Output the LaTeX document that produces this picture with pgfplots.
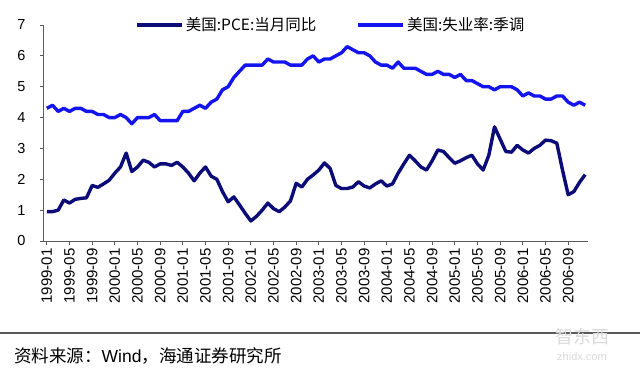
\documentclass[border=0pt]{standalone}
\usepackage{fontspec}
\setmainfont{Liberation Sans}
\newfontfamily\cjk{Noto Sans CJK SC}
\usepackage{pgfplots}
\usepackage{pgfplotstable}
\pgfplotsset{compat=1.18}
\definecolor{pce}{RGB}{12,12,120}
\definecolor{unemp}{RGB}{20,20,240}
\definecolor{axgray}{RGB}{90,90,90}

\pgfplotstableread{
i v
0 0.95
1 0.95
2 1.00
3 1.33
4 1.23
5 1.35
6 1.38
7 1.40
8 1.80
9 1.74
10 1.85
11 1.97
12 2.20
13 2.40
14 2.85
15 2.25
16 2.40
17 2.62
18 2.55
19 2.40
20 2.50
21 2.50
22 2.45
23 2.55
24 2.40
25 2.20
26 1.95
27 2.20
28 2.40
29 2.10
30 2.00
31 1.60
32 1.27
33 1.43
34 1.17
35 0.90
36 0.65
37 0.80
38 1.00
39 1.23
40 1.05
41 0.95
42 1.10
43 1.30
44 1.87
45 1.75
46 2.00
47 2.14
48 2.30
49 2.53
50 2.35
51 1.80
52 1.70
53 1.70
54 1.75
55 1.92
56 1.78
57 1.72
58 1.85
59 1.95
60 1.78
61 1.85
62 2.20
63 2.50
64 2.78
65 2.60
66 2.40
67 2.30
68 2.60
69 2.95
70 2.90
71 2.70
72 2.52
73 2.60
74 2.70
75 2.78
76 2.50
77 2.30
78 2.78
79 3.70
80 3.30
81 2.90
82 2.88
83 3.10
84 2.95
85 2.85
86 3.00
87 3.10
88 3.27
89 3.25
90 3.17
91 2.30
92 1.50
93 1.60
94 1.90
95 2.15
}\pcedata

\pgfplotstableread{
i v
0 4.3
1 4.4
2 4.2
3 4.3
4 4.2
5 4.3
6 4.3
7 4.2
8 4.2
9 4.1
10 4.1
11 4.0
12 4.0
13 4.1
14 4.0
15 3.8
16 4.0
17 4.0
18 4.0
19 4.1
20 3.9
21 3.9
22 3.9
23 3.9
24 4.2
25 4.2
26 4.3
27 4.4
28 4.3
29 4.5
30 4.6
31 4.9
32 5.0
33 5.3
34 5.5
35 5.7
36 5.7
37 5.7
38 5.7
39 5.9
40 5.8
41 5.8
42 5.8
43 5.7
44 5.7
45 5.7
46 5.9
47 6.0
48 5.8
49 5.9
50 5.9
51 6.0
52 6.1
53 6.3
54 6.2
55 6.1
56 6.1
57 6.0
58 5.8
59 5.7
60 5.7
61 5.6
62 5.8
63 5.6
64 5.6
65 5.6
66 5.5
67 5.4
68 5.4
69 5.5
70 5.4
71 5.4
72 5.3
73 5.4
74 5.2
75 5.2
76 5.1
77 5.0
78 5.0
79 4.9
80 5.0
81 5.0
82 5.0
83 4.9
84 4.7
85 4.8
86 4.7
87 4.7
88 4.6
89 4.6
90 4.7
91 4.7
92 4.5
93 4.4
94 4.5
95 4.4
}\unempdata

\begin{document}
\begin{tikzpicture}
\useasboundingbox (0pt,0pt) rectangle (640pt,-370pt);
\begin{axis}[
  at={(44pt,-241pt)}, anchor=south west,
  scale only axis, width=544pt, height=216pt,
  xmin=-0.5, xmax=95.5, ymin=0, ymax=7,
  axis lines*=left,
  axis line style={axgray, line width=1pt},
  tick style={axgray, line width=0.8pt},
  tick align=outside, major tick length=4pt,
  ytick={0,1,...,7},
  xtick={0,4,...,92},
  xticklabels={1999-01,1999-05,1999-09,2000-01,2000-05,2000-09,2001-01,2001-05,2001-09,2002-01,2002-05,2002-09,2003-01,2003-05,2003-09,2004-01,2004-05,2004-09,2005-01,2005-05,2005-09,2006-01,2006-05,2006-09},
  xticklabel style={rotate=90, anchor=east, font=\fontsize{15}{17}\selectfont},
  yticklabel style={font=\fontsize{14.5}{16}\selectfont, xshift=-11pt},
  /pgf/number format/assume math mode=true,
  legend style={at={(0.527,1.0)}, anchor=center, draw=none, fill=none,
    legend columns=2, font=\cjk\fontsize{15.5}{17}\selectfont,
    /tikz/every even column/.append style={column sep=38pt}},
  legend image code/.code={\draw[#1, line width=3.8pt] (0pt,0pt) -- (45pt,0pt);},
  clip=false,
]
\addplot[pce, line width=3.4pt, line join=round] table[x=i, y=v] {\pcedata};
\addlegendentry{美国:PCE:当月同比}
\addplot[unemp, line width=3.4pt, line join=round] table[x=i, y=v] {\unempdata};
\addlegendentry{美国:失业率:季调}
\end{axis}
\draw[axgray, line width=1.5pt] (0pt,-333pt) -- (640pt,-333pt);
\node[anchor=west, inner sep=0pt, font=\fontsize{17.5}{19}\selectfont] at (14pt,-356pt) {{\cjk 资料来源：}Wind{\cjk ，海通证券研究所}};
\node[anchor=center, inner sep=0pt, text=gray!30, font=\cjk\fontsize{18}{20}\selectfont] at (582pt,-337pt) {智东西};
\node[anchor=center, inner sep=0pt, text=gray!30, font=\fontsize{11}{12}\selectfont] at (582pt,-357pt) {zhidx.com};
\end{tikzpicture}
\end{document}
